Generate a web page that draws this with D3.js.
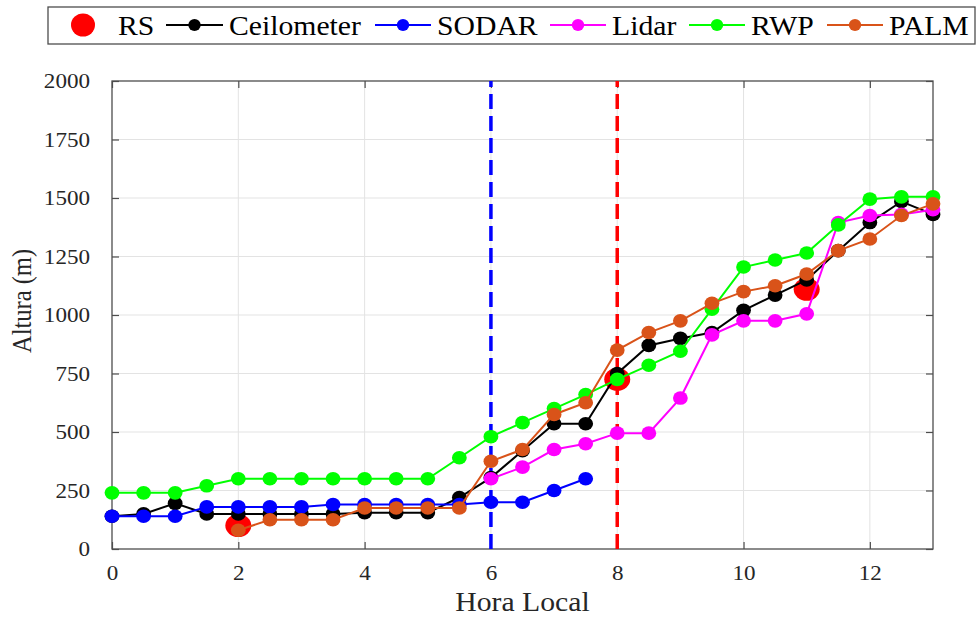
<!DOCTYPE html>
<html>
<head>
<meta charset="utf-8">
<script src="https://cdn.jsdelivr.net/npm/d3@7"></script>
<style>
  html, body { margin: 0; padding: 0; background: #fff; }
  svg { display: block; }
  svg text { font-family: 'Liberation Serif', 'Times New Roman', serif; }
</style>
</head>
<body>
<svg id="chart" width="979" height="617"></svg>
<script>
// Boundary-layer height (m) against local time, one array per instrument
const fullHours = [0, 0.5, 1, 1.5, 2, 2.5, 3, 3.5, 4, 4.5, 5, 5.5, 6, 6.5, 7, 7.5, 8, 8.5, 9, 9.5, 10, 10.5, 11, 11.5, 12, 12.5, 13];
const ceilometer = [140, 150, 195, 150, 150, 150, 150, 150, 155, 155, 155, 220, 305, 420, 535, 535, 750, 870, 900, 925, 1020, 1085, 1150, 1275, 1395, 1485, 1430];

const sodarHours = [0, 0.5, 1, 1.5, 2, 2.5, 3, 3.5, 4, 4.5, 5, 5.5, 6, 6.5, 7, 7.5];
const sodar = [140, 140, 140, 180, 180, 180, 180, 190, 190, 190, 190, 190, 200, 200, 250, 300];

const lidarHours = [6, 6.5, 7, 7.5, 8, 8.5, 9, 9.5, 10, 10.5, 11, 11.5, 12, 12.5, 13];
const lidar = [300, 350, 425, 450, 495, 495, 645, 915, 975, 975, 1005, 1395, 1425, 1430, 1450];

const rwp = [240, 240, 240, 270, 300, 300, 300, 300, 300, 300, 300, 390, 480, 540, 600, 660, 725, 785, 845, 1025, 1205, 1235, 1265, 1385, 1495, 1505, 1505];

const palmHours = [2, 2.5, 3, 3.5, 4, 4.5, 5, 5.5, 6, 6.5, 7, 7.5, 8, 8.5, 9, 9.5, 10, 10.5, 11, 11.5, 12, 12.5, 13];
const palm = [80, 125, 125, 125, 175, 175, 175, 175, 375, 425, 575, 625, 850, 925, 975, 1050, 1100, 1125, 1175, 1275, 1325, 1425, 1475];

const rsHours = [2, 8, 11];
const rs = [100, 725, 1110];

// Reference times marked with vertical dashed lines
const markerHours = [6, 8];
const markerColors = ["#0000ff", "#ff0000"];

const xTicks = [0, 2, 4, 6, 8, 10, 12];
const yTicks = [0, 250, 500, 750, 1000, 1250, 1500, 1750, 2000];

const seriesNames = ["Ceilometer", "SODAR", "Lidar", "RWP", "PALM"];
const seriesColors = ["#000000", "#0000ff", "#ff00ff", "#00ff00", "#d95319"];

// ---- layout ----
const FONT = "'Liberation Serif', 'Times New Roman', serif";
const svg = d3.select("#chart");
const plot = { left: 112, right: 933, top: 81, bottom: 549 };
const x = d3.scaleLinear().domain([0, 13]).range([plot.left, plot.right]);
const y = d3.scaleLinear().domain([0, 2000]).range([plot.bottom, plot.top]);
const SX = 1.1; // glyphs are slightly wide in this layout
const textColor = "#262626";

// gridlines
const grid = svg.append("g");
grid.selectAll("line.gx").data(xTicks.filter(t => t > 0)).join("line")
  .attr("x1", d => x(d)).attr("x2", d => x(d))
  .attr("y1", plot.top).attr("y2", plot.bottom)
  .attr("stroke", "#e3e3e3").attr("stroke-width", 1);
grid.selectAll("line.gy").data(yTicks.filter(t => t > 0 && t < 2000)).join("line")
  .attr("x1", plot.left).attr("x2", plot.right)
  .attr("y1", d => y(d)).attr("y2", d => y(d))
  .attr("stroke", "#e3e3e3").attr("stroke-width", 1);

// axes: inward ticks on all four sides, labels on bottom and left
const axisColor = "#4d4d4d";
function styleAxis(g) {
  g.attr("font-family", null).attr("font-size", 21);
  g.select(".domain").remove();
  g.selectAll(".tick line").attr("stroke", axisColor).attr("stroke-width", 1.2);
  g.selectAll(".tick text").attr("fill", textColor).style("font-family", FONT);
}
const gx = svg.append("g").attr("transform", `translate(0,${plot.bottom})`)
  .call(d3.axisBottom(x).tickValues(xTicks).tickFormat(d3.format("d")).tickSizeInner(-7).tickSizeOuter(0).tickPadding(16))
  .call(styleAxis);
gx.selectAll(".tick text").attr("transform", `scale(${SX},1)`);

const gy = svg.append("g").attr("transform", `translate(${plot.left},0)`)
  .call(d3.axisLeft(y).tickValues(yTicks).tickFormat(d3.format("d")).tickSizeInner(-7).tickSizeOuter(0).tickPadding(20))
  .call(styleAxis);
gy.selectAll(".tick text").attr("transform", `scale(${SX},1)`).attr("x", -20);

svg.append("g").attr("transform", `translate(0,${plot.top})`)
  .call(d3.axisTop(x).tickValues(xTicks).tickFormat("").tickSizeInner(-7).tickSizeOuter(0))
  .call(styleAxis);
svg.append("g").attr("transform", `translate(${plot.right},0)`)
  .call(d3.axisRight(y).tickValues(yTicks).tickFormat("").tickSizeInner(-7).tickSizeOuter(0))
  .call(styleAxis);

// plot frame
svg.append("rect")
  .attr("x", plot.left).attr("y", plot.top)
  .attr("width", plot.right - plot.left).attr("height", plot.bottom - plot.top)
  .attr("fill", "none").attr("stroke", axisColor).attr("stroke-width", 1.3);

// axis titles
svg.append("text")
  .attr("transform", `translate(${(plot.left + plot.right) / 2},611) scale(${SX},1)`)
  .attr("text-anchor", "middle").attr("font-size", 27).attr("fill", textColor)
  .text("Hora Local");
svg.append("text")
  .attr("transform", `translate(31,301) scale(${SX},1) rotate(-90)`)
  .attr("text-anchor", "middle").attr("font-size", 24.5).attr("fill", textColor)
  .text("Altura (m)");

// vertical dashed markers
svg.append("g").selectAll("line").data(markerHours).join("line")
  .attr("x1", d => x(d)).attr("x2", d => x(d))
  .attr("y1", y(0)).attr("y2", y(2000))
  .attr("stroke", (d, i) => markerColors[i])
  .attr("stroke-width", 3.5)
  .attr("stroke-dasharray", "15,7");

// radiosonde points
const rsPoints = rsHours.map((h, i) => ({ h, v: rs[i] }));
svg.append("g").selectAll("ellipse").data(rsPoints).join("ellipse")
  .attr("cx", d => x(d.h)).attr("cy", d => y(d.v))
  .attr("rx", 13).attr("ry", 11.5)
  .attr("fill", "#ff0000");

// instrument series, each line with its markers, in legend order
const series = [
  { hours: fullHours, values: ceilometer },
  { hours: sodarHours, values: sodar },
  { hours: lidarHours, values: lidar },
  { hours: fullHours, values: rwp },
  { hours: palmHours, values: palm }
];
const line = d3.line().x(d => x(d.h)).y(d => y(d.v));
series.forEach((s, i) => {
  const pts = s.hours.map((h, j) => ({ h, v: s.values[j] }));
  const g = svg.append("g");
  g.append("path").datum(pts)
    .attr("d", line).attr("fill", "none")
    .attr("stroke", seriesColors[i]).attr("stroke-width", 2);
  g.selectAll("ellipse").data(pts).join("ellipse")
    .attr("cx", d => x(d.h)).attr("cy", d => y(d.v))
    .attr("rx", 7.4).attr("ry", 6.8)
    .attr("fill", seriesColors[i]);
});

// legend
const legend = svg.append("g");
legend.append("rect")
  .attr("x", 48).attr("y", 7).attr("width", 927).attr("height", 37)
  .attr("fill", "#fff").attr("stroke", axisColor).attr("stroke-width", 1.3);
const ly = 25;
legend.append("ellipse").attr("cx", 83).attr("cy", ly).attr("rx", 12).attr("ry", 11.5).attr("fill", "#ff0000");
legend.append("text").attr("transform", `translate(118,35) scale(${SX},1)`)
  .attr("font-size", 27).attr("fill", "#000").text("RS");
const legendLines = [[166, 223], [375, 431], [550, 606], [689, 745], [827, 883]];
seriesNames.forEach((name, i) => {
  const [a, b] = legendLines[i];
  legend.append("line").attr("x1", a).attr("x2", b).attr("y1", ly).attr("y2", ly)
    .attr("stroke", seriesColors[i]).attr("stroke-width", 2);
  legend.append("ellipse").attr("cx", (a + b) / 2).attr("cy", ly)
    .attr("rx", 6.2).attr("ry", 6).attr("fill", seriesColors[i]);
  legend.append("text").attr("transform", `translate(${b + 6},35) scale(${SX},1)`)
    .attr("font-size", 27).attr("fill", "#000").text(name);
});
</script>
</body>
</html>
